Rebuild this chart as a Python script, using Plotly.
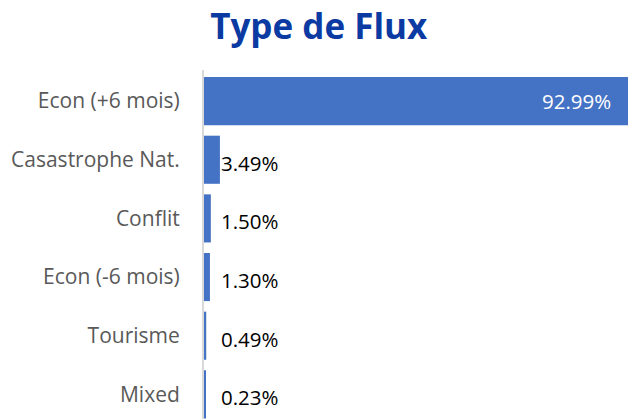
import plotly.graph_objects as go

categories = ["Econ (+6 mois)", "Casastrophe Nat.", "Conflit", "Econ (-6 mois)", "Tourisme", "Mixed"]
values = [92.99, 3.49, 1.50, 1.30, 0.49, 0.23]
labels = ["92.99%", "3.49%", "1.50%", "1.30%", "0.49%", "0.23%"]

BAR_COLOR = "#4472C4"
LABEL_MIN_X = 3.49  # Excel places small outside labels at a common minimum offset

fig = go.Figure()
fig.add_trace(go.Bar(
    y=categories, x=values, orientation="h",
    marker=dict(color=BAR_COLOR, line=dict(width=0)),
    hoverinfo="skip",
))

annotations = []
for i, (c, v, t) in enumerate(zip(categories, values, labels)):
    if i == 0:
        annotations.append(dict(x=v, y=c, xref="x", yref="y", text=t, showarrow=False,
                                xanchor="right", xshift=-15, yshift=0,
                                font=dict(family="Open Sans", size=20.5, color="white")))
    else:
        annotations.append(dict(x=max(v, LABEL_MIN_X), y=c, xref="x", yref="y", text=t, showarrow=False,
                                xanchor="left", xshift=-1, yshift=-3,
                                font=dict(family="Open Sans", size=20.5, color="black")))

fig.update_layout(
    width=635, height=419,
    margin=dict(l=204, r=7, t=70, b=0, pad=0),
    paper_bgcolor="white", plot_bgcolor="white",
    bargap=0.18,
    showlegend=False,
    title=dict(text="<b>Type de Flux</b>", x=0.502, xref="container", xanchor="center",
               y=0.935, yref="container", yanchor="middle",
               font=dict(family="Open Sans", size=35, color="#0B3AA2")),
    xaxis=dict(range=[0, 92.99], visible=False, fixedrange=True),
    yaxis=dict(type="category", categoryorder="array", categoryarray=categories,
               range=[5.42, -0.53], showline=True, linecolor="#D9D9D9", linewidth=2,
               showgrid=False, zeroline=False, ticks="", ticklabelstandoff=18,
               tickfont=dict(family="Open Sans", size=21, color="#595959")),
    annotations=annotations,
)

fig.write_html("out.html", config={"displayModeBar": False},
               post_script="document.body.style.margin='0';document.body.style.overflow='hidden';")
